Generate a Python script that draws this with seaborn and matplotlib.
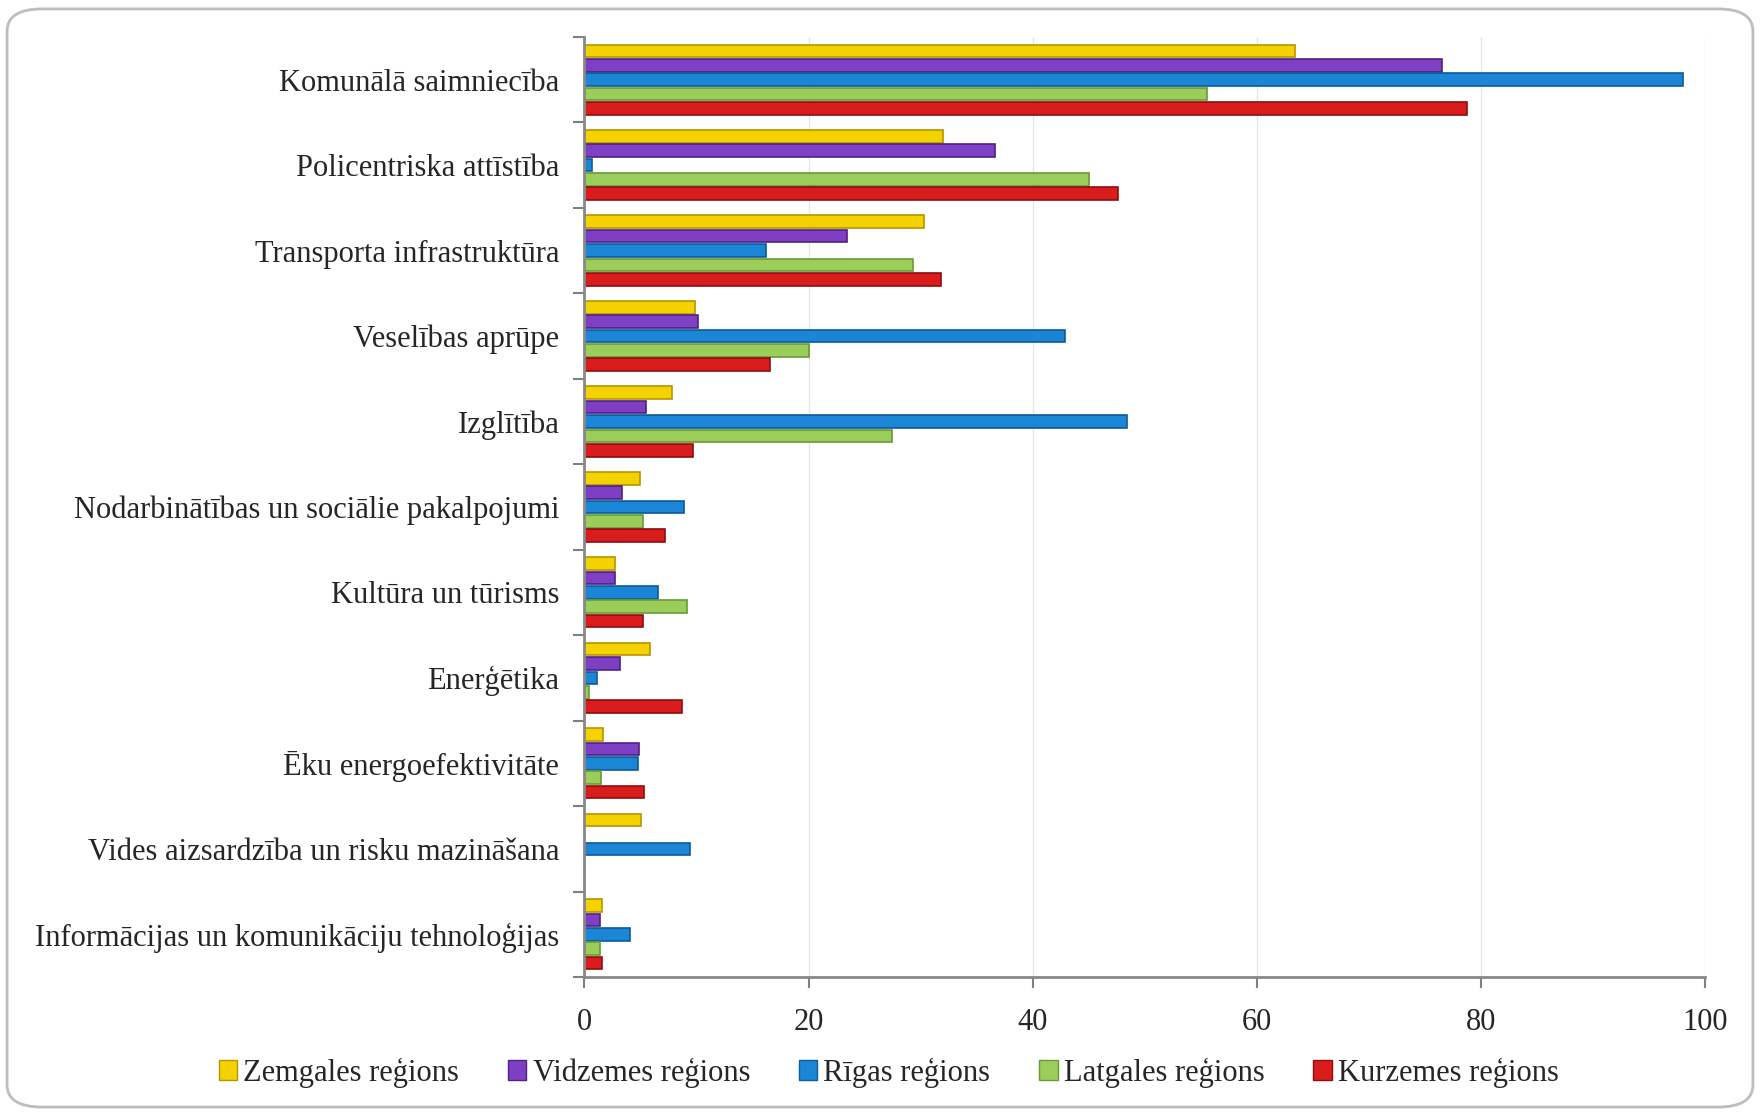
import pandas as pd
import numpy as np
import matplotlib
matplotlib.use("Agg")
import matplotlib.pyplot as plt
import seaborn as sns
from matplotlib.patches import FancyBboxPatch, Patch

categories = [
    "Komunālā saimniecība",
    "Policentriska attīstība",
    "Transporta infrastruktūra",
    "Veselības aprūpe",
    "Izglītība",
    "Nodarbinātības un sociālie pakalpojumi",
    "Kultūra un tūrisms",
    "Enerģētika",
    "Ēku energoefektivitāte",
    "Vides aizsardzība un risku mazināšana",
    "Informācijas un komunikāciju tehnoloģijas",
]
regions = ["Zemgales reģions", "Vidzemes reģions", "Rīgas reģions",
           "Latgales reģions", "Kurzemes reģions"]

zemgale = [63.4, 32.0, 30.3, 9.9, 7.8, 5.0, 2.7, 5.9, 1.7, 5.1, 1.6]
vidzeme = [76.5, 36.6, 23.4, 10.1, 5.5, 3.4, 2.7, 3.2, 4.9, 0.0, 1.4]
riga = [98.0, 0.7, 16.2, 42.9, 48.4, 8.9, 6.6, 1.1, 4.8, 9.4, 4.1]
latgale = [55.5, 45.0, 29.3, 20.0, 27.4, 5.2, 9.2, 0.4, 1.5, 0.0, 1.4]
kurzeme = [78.7, 47.6, 31.8, 16.6, 9.7, 7.2, 5.2, 8.7, 5.3, 0.0, 1.6]

colors = ["#F4D200", "#7E3FC4", "#1B86D6", "#9ACD5A", "#D91C1C"]
edges = ["#B89400", "#4E2380", "#0E5A9A", "#6A9A35", "#8E0E0E"]

rows = []
for reg, vals in zip(regions, [zemgale, vidzeme, riga, latgale, kurzeme]):
    for cat, v in zip(categories, vals):
        rows.append({"Kategorija": cat, "Reģions": reg, "Vērtība": v})
df = pd.DataFrame(rows)

sns.set_theme(style="white")
plt.rcParams["font.family"] = ["Liberation Serif", "DejaVu Serif"]

fig = plt.figure(figsize=(17.6, 11.16), dpi=100)
ax = fig.add_axes([0.332, 0.1245, 0.637, 0.8425])

sns.barplot(data=df, y="Kategorija", x="Vērtība", hue="Reģions",
            order=categories, hue_order=regions, palette=colors, saturation=1,
            orient="h", width=0.84, gap=0.12, ax=ax, legend=False)

for i, cont in enumerate(ax.containers):
    for bar in cont:
        bar.set_edgecolor(edges[i])
        bar.set_linewidth(1.2)

ax.set_xlim(0, 100)
ax.set_ylim(len(categories) - 0.5, -0.5)
ax.set_xticks(np.arange(0, 101, 20))
ax.set_xlabel("")
ax.set_ylabel("")
ax.xaxis.grid(True, color="#E6E6E6", linewidth=1)
ax.set_axisbelow(True)

ax.set_yticks(np.arange(len(categories)))
ax.set_yticklabels(categories)
ax.set_yticks(np.arange(-0.5, len(categories), 1), minor=True)
ax.tick_params(axis="y", which="major", length=0, pad=18, labelsize=22)
ax.tick_params(axis="y", which="minor", length=8, width=1.5, color="#808080", direction="out", left=True)
ax.tick_params(axis="x", which="major", length=8, width=1.5, color="#808080", direction="out",
               bottom=True, labelsize=22, pad=14)

for side in ["top", "right"]:
    ax.spines[side].set_visible(False)
for side in ["left", "bottom"]:
    ax.spines[side].set_color("#888888")
    ax.spines[side].set_linewidth(2)

handles = [Patch(facecolor=c, edgecolor=e) for c, e in zip(colors, edges)]
fig.legend(handles, regions, loc="center", bbox_to_anchor=(0.505, 0.039), ncol=5,
           frameon=False, fontsize=22, handlelength=0.6, handleheight=0.6,
           handletextpad=0.2, columnspacing=1.6)

frame = FancyBboxPatch((0.004, 0.008), 0.992, 0.984, boxstyle="round,pad=0,rounding_size=0.02",
                       transform=fig.transFigure, facecolor="none", edgecolor="#BDBDBD",
                       linewidth=2, zorder=-1)
fig.patches.append(frame)

fig.savefig("out.png", dpi=100)
